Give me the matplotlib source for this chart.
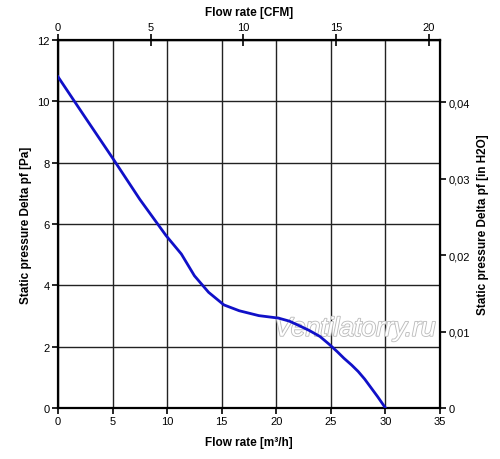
import matplotlib
matplotlib.use('Agg')
import matplotlib.pyplot as plt
import matplotlib.patheffects as pe

plt.rcParams['font.family'] = ['Liberation Sans', 'DejaVu Sans']

# Fan curve: flow rate [m3/h] vs static pressure [Pa]
flow_m3h = [0, 2.5, 5, 7.5, 9.9, 11.3, 12.5, 13.8, 15.2, 16.6, 18.4, 20.2,
            21.2, 22.0, 23.0, 24.0, 24.9, 25.6, 26.2, 26.9, 27.5, 28.1, 28.7, 29.3, 30.0]
pressure_pa = [10.8, 9.47, 8.15, 6.8, 5.62, 5.02, 4.31, 3.77, 3.36, 3.17, 3.01, 2.93,
               2.83, 2.70, 2.53, 2.33, 2.06, 1.83, 1.62, 1.40, 1.19, 0.94, 0.65, 0.36, 0.0]

x_ticks = [0, 5, 10, 15, 20, 25, 30, 35]
y_ticks = [0, 2, 4, 6, 8, 10, 12]
cfm_ticks = [0, 5, 10, 15, 20]
inh2o_ticks = [0, 0.01, 0.02, 0.03, 0.04]
inh2o_labels = ['0', '0,01', '0,02', '0,03', '0,04']

M3H_PER_CFM = 1.699
PA_PER_INH2O = 249.09

fig = plt.figure(figsize=(5, 4.6), dpi=100)
ax = fig.add_axes([0.116, 0.111, 0.764, 0.800])

ax.plot(flow_m3h, pressure_pa, color='#1010c8', linewidth=2, zorder=4)

ax.set_xlim(0, 35)
ax.set_ylim(0, 12)
ax.set_xticks(x_ticks)
ax.set_yticks(y_ticks)
ax.grid(True, color='#222222', linewidth=1.0)
for s in ax.spines.values():
    s.set_linewidth(1.6)
ax.tick_params(direction='out', length=4, width=1.2, labelsize=8, pad=2)
ax.set_xlabel('Flow rate [m³/h]', fontsize=8.5, fontweight='bold', labelpad=7)
ax.set_ylabel('Static pressure Delta pf [Pa]', fontsize=8.5, fontweight='bold', labelpad=4)

# top axis in CFM
top = ax.secondary_xaxis('top', functions=(lambda v: v / M3H_PER_CFM, lambda v: v * M3H_PER_CFM))
top.set_xticks(cfm_ticks)
top.tick_params(direction='inout', length=8, width=1.2, labelsize=8, pad=2)
top.set_xlabel('Flow rate [CFM]', fontsize=8.5, fontweight='bold', labelpad=5)

# right axis in inches of water
right = ax.secondary_yaxis('right', functions=(lambda v: v / PA_PER_INH2O, lambda v: v * PA_PER_INH2O))
right.set_yticks(inh2o_ticks)
right.set_yticklabels(inh2o_labels)
right.tick_params(direction='out', length=4, width=1.2, labelsize=8, pad=2)
right.set_ylabel('Static pressure Delta pf [in H2O]', fontsize=8.5, fontweight='bold', labelpad=5)

ax.text(27.2, 2.58, 'Ventilatorry.ru', fontsize=19, style='italic', color='white',
        ha='center', va='center', zorder=3,
        path_effects=[pe.withStroke(linewidth=1.3, foreground='#bdbdbd')])

fig.savefig('out.png', dpi=100)
